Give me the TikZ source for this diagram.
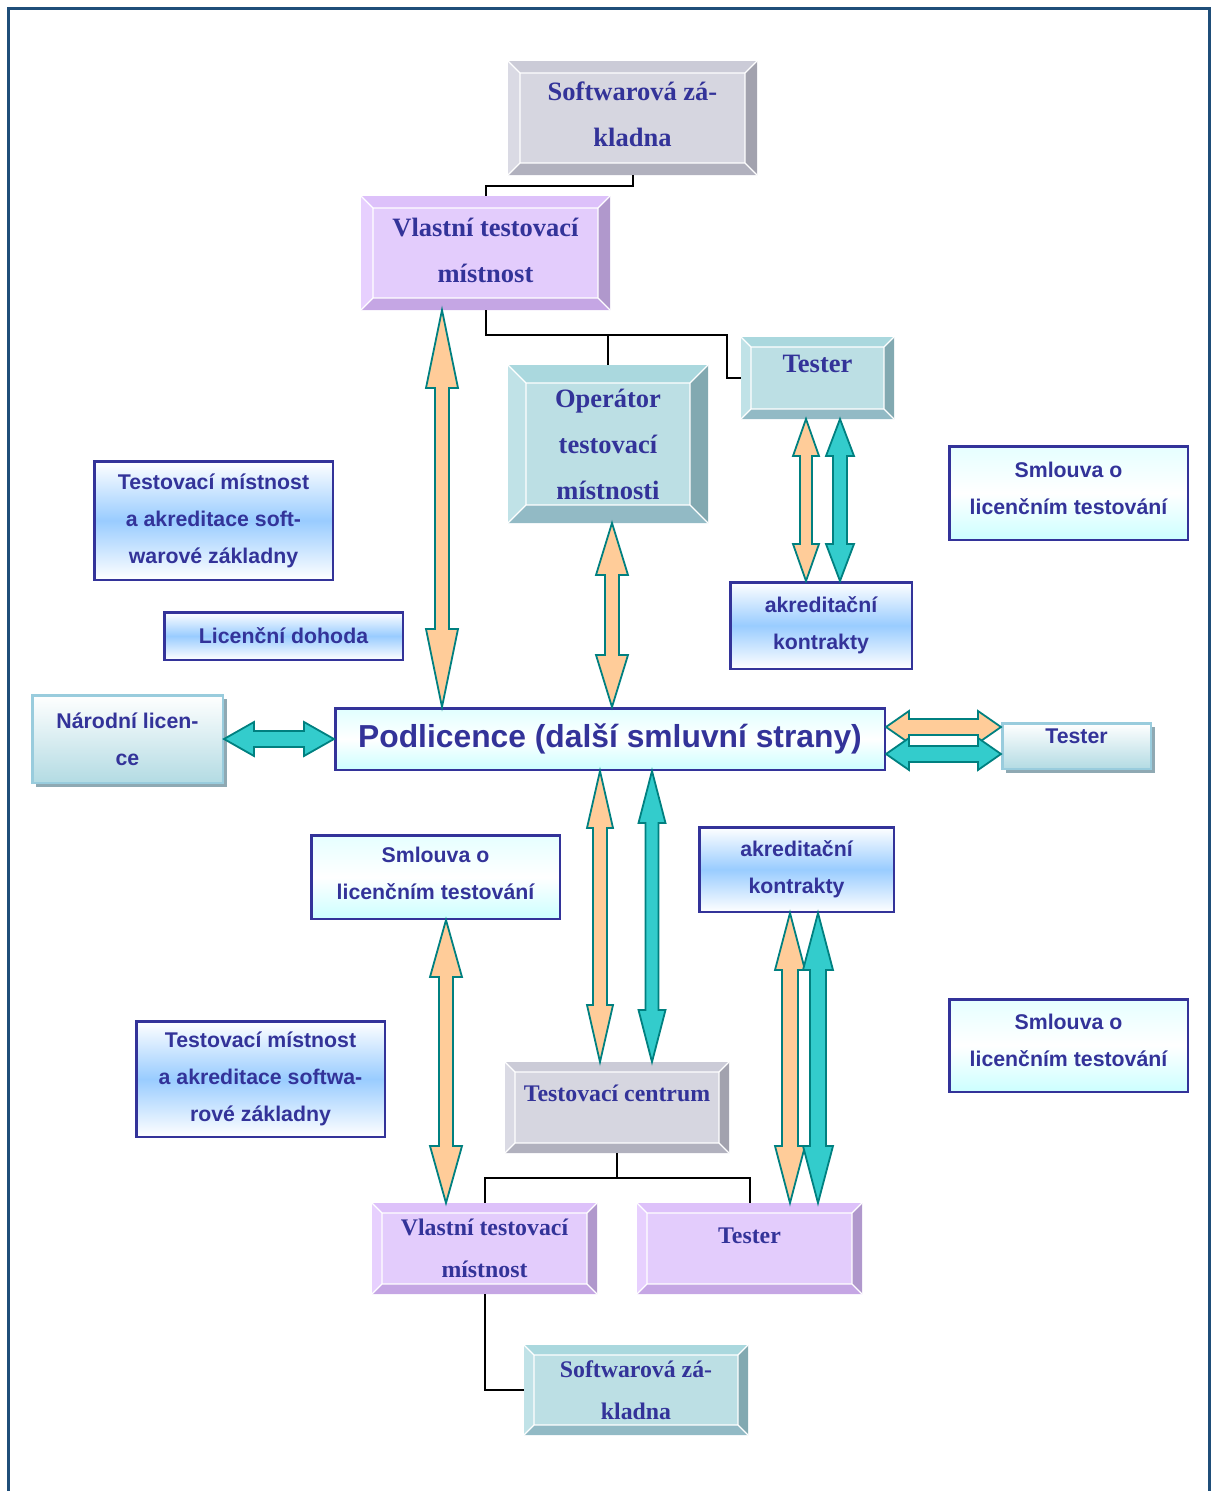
\documentclass[tikz,border=0pt]{standalone}
\usepackage{fontspec}
\setmainfont{Liberation Serif}
\setsansfont{Liberation Sans}
\usepackage{tikz}
\usetikzlibrary{calc,shadows}
\definecolor{navy}{HTML}{333399}
\definecolor{edge}{HTML}{1F4E79}
\definecolor{rim}{HTML}{008080}
\definecolor{peach}{HTML}{FFCC99}
\definecolor{aqua}{HTML}{33CCCC}
\definecolor{sky}{HTML}{99CCFF}
\definecolor{ice}{HTML}{CCFFFF}
\definecolor{mist}{HTML}{B3DBE3}
\definecolor{mistline}{HTML}{99CCDD}
\definecolor{shade}{HTML}{8FA9B3}
\definecolor{gryF}{HTML}{D6D6E0}
\definecolor{gryT}{HTML}{CBCBD7}
\definecolor{gryL}{HTML}{DADAE4}
\definecolor{gryR}{HTML}{A2A2AE}
\definecolor{gryB}{HTML}{B1B1BE}
\definecolor{purF}{HTML}{E3CCFC}
\definecolor{purT}{HTML}{DDC1FA}
\definecolor{purL}{HTML}{E7D0FE}
\definecolor{purR}{HTML}{B098CC}
\definecolor{purB}{HTML}{C5A6E4}
\definecolor{tlF}{HTML}{BCDFE4}
\definecolor{tlT}{HTML}{AAD8DE}
\definecolor{tlL}{HTML}{C0E2E7}
\definecolor{tlR}{HTML}{82A9B1}
\definecolor{tlB}{HTML}{92BAC5}
\newcommand\dblarrow[6]{\draw[#1] (#2)
 -- ($(#2)!#6!(#3)!#5!90:(#3)$) -- ($(#2)!#6!(#3)!#4!90:(#3)$)
 -- ($(#3)!#6!(#2)!#4!-90:(#2)$) -- ($(#3)!#6!(#2)!#5!-90:(#2)$)
 -- (#3)
 -- ($(#3)!#6!(#2)!#5!90:(#2)$) -- ($(#3)!#6!(#2)!#4!90:(#2)$)
 -- ($(#2)!#6!(#3)!#4!-90:(#3)$) -- ($(#2)!#6!(#3)!#5!-90:(#3)$)
 -- cycle;}

\begin{document}
\begin{tikzpicture}[x=1pt,y=-1pt,
 ser/.style={font=\bfseries\fontsize{26.5}{46}\selectfont},
 sers/.style={font=\bfseries\fontsize{23.8}{42}\selectfont},
 sns/.style={font=\sffamily\bfseries\fontsize{21.3}{37}\selectfont},
 bv/.style={inner sep=0pt,outer sep=0pt,align=center,text=navy},
 bevel/.style 2 args={fill=#1F,path picture={
  \coordinate (bnw) at (path picture bounding box.north west);
  \coordinate (bne) at (path picture bounding box.north east);
  \coordinate (bsw) at (path picture bounding box.south west);
  \coordinate (bse) at (path picture bounding box.south east);
  \coordinate (inw) at ([shift={(#2,-#2)}]bnw);
  \coordinate (ine) at ([shift={(-#2,-#2)}]bne);
  \coordinate (isw) at ([shift={(#2,#2)}]bsw);
  \coordinate (ise) at ([shift={(-#2,#2)}]bse);
  \fill[#1T] (bnw)--(bne)--(ine)--(inw)--cycle;
  \fill[#1L] (bnw)--(inw)--(isw)--(bsw)--cycle;
  \fill[#1R] (bne)--(ine)--(ise)--(bse)--cycle;
  \fill[#1B] (bsw)--(isw)--(ise)--(bse)--cycle;
  \draw[white,line width=1.3pt] (inw) rectangle (ise) (bnw)--(inw) (bne)--(ine) (bsw)--(isw) (bse)--(ise);}},
 flat/.style={draw=navy,line width=2.5pt,inner sep=0pt,align=center,text=navy,sns},
 blu/.style={flat,top color=white,bottom color=white,middle color=sky},
 cyn/.style={flat,top color=ice!50!white,bottom color=ice,middle color=white},
 mst/.style={draw=mistline,line width=2.5pt,inner sep=0pt,align=center,text=navy,sns,top color=white,bottom color=mist,
  drop shadow={shadow xshift=4pt,shadow yshift=-4pt,fill=shade,opacity=1}},
 conn/.style={draw=black,line width=2pt},
 oarr/.style={fill=peach,draw=rim,line width=1.8pt},
 tarr/.style={fill=aqua,draw=rim,line width=1.8pt}]
\useasboundingbox (0,0) rectangle (1211,1491);
\draw[edge,line width=3pt] (8.5,1491)--(8.5,8.5)--(1209.5,8.5)--(1209.5,1491);

\node[bv,bevel={gry}{12pt},ser,minimum width=249,minimum height=114,text depth=7pt] (sw1) at (632.5,118) {Softwarová zá-\\kladna};
\node[bv,bevel={pur}{12pt},ser,minimum width=249,minimum height=114,text depth=5pt] (vt1) at (485.5,253) {Vlastní testovací\\místnost};
\node[bv,bevel={tl}{18pt},ser,minimum width=200,minimum height=158] (op) at (608,444) {Operátor\\testovací\\místnosti};
\node[bv,bevel={tl}{10pt},ser,minimum width=153,minimum height=82,text height=17.5pt,text depth=28pt] (tst1) at (817.5,378) {Tester};
\node[blu,minimum width=181.5,minimum height=86.5] (akr1) at (821,625.5) {akreditační\\kontrakty};
\node[cyn,minimum width=238.5,minimum height=93.5,text depth=10pt] (sml1) at (1068.5,493) {Smlouva o\\licenčním testování};
\node[blu,minimum width=238.5,minimum height=118.5] (tma1) at (213.5,520.5) {Testovací místnost\\a akreditace soft-\\warové základny};
\node[blu,minimum width=238.5,minimum height=47.5] (lic) at (283.5,636) {Licenční dohoda};
\node[mst,minimum width=190.5,minimum height=87.5] (nar) at (127.5,739) {Národní licen-\\ce};
\node[flat,top color=ice!60!white,bottom color=ice,middle color=white,font=\sffamily\bfseries\fontsize{31.8}{38}\selectfont,minimum width=549.5,minimum height=61.5] (pod) at (610,739) {Podlicence (další smluvní strany)};
\node[mst,minimum width=148.5,minimum height=45.5,text height=15.3pt,text depth=20pt] (tst2) at (1076.5,746) {Tester};
\node[cyn,minimum width=248.5,minimum height=83.5,text depth=8pt] (sml2) at (435.5,877) {Smlouva o\\licenčním testování};
\node[blu,minimum width=194.5,minimum height=84.5] (akr2) at (796.5,869.5) {akreditační\\kontrakty};
\node[blu,minimum width=248.5,minimum height=115.5] (tma2) at (260.5,1079) {Testovací místnost\\a akreditace softwa-\\rové základny};
\node[cyn,minimum width=238.5,minimum height=92.5,text depth=10pt] (sml3) at (1068.5,1045.5) {Smlouva o\\licenčním testování};
\node[bv,bevel={gry}{10pt},sers,minimum width=224,minimum height=91,text height=15.8pt,text depth=27pt] (tc) at (617,1107.5) {Testovací centrum};
\node[bv,bevel={pur}{10pt},sers,minimum width=225,minimum height=91] (vt2) at (484.5,1248.5) {Vlastní testovací\\místnost};
\node[bv,bevel={pur}{10pt},sers,minimum width=225,minimum height=91,text height=15.8pt,text depth=25pt] (tst3) at (749.5,1248.5) {Tester};
\node[bv,bevel={tl}{10pt},sers,minimum width=224,minimum height=90] (sw2) at (636,1390) {Softwarová zá-\\kladna};

\draw[conn] (sw1.south) -- ++(0,11) -| (vt1.north);
\draw[conn] (vt1.south) -- ++(0,25) -| (op.north);
\draw[conn] (vt1.south) -- ++(0,25) -| ([xshift=-14pt]tst1.west) -- (tst1.west);
\draw[conn] (tc.south) -- ++(0,25) -| (vt2.north);
\draw[conn] (tc.south) -- ++(0,25) -| (tst3.north);
\draw[conn] (vt2.south) |- (sw2.west);

\dblarrow{oarr}{vt1.south -| 442,0}{pod.north -| 442,0}{7pt}{16pt}{78pt}
\dblarrow{oarr}{op.south -| 612,0}{pod.north -| 612,0}{7pt}{16pt}{52pt}
\dblarrow{oarr}{tst1.south -| 806,0}{akr1.north -| 806,0}{6pt}{13pt}{37pt}
\dblarrow{tarr}{tst1.south -| 840,0}{akr1.north -| 840,0}{7pt}{14pt}{37pt}
\dblarrow{oarr}{pod.south -| 600,0}{tc.north -| 600,0}{7pt}{13pt}{57pt}
\dblarrow{tarr}{pod.south -| 652,0}{tc.north -| 652,0}{6.5pt}{13.5pt}{52pt}
\dblarrow{oarr}{sml2.south -| 446,0}{vt2.north -| 446,0}{7pt}{16pt}{57pt}
\dblarrow{oarr}{akr2.south -| 790,0}{tst3.north -| 790,0}{8pt}{15pt}{57pt}
\dblarrow{tarr}{akr2.south -| 818,0}{tst3.north -| 818,0}{8pt}{15pt}{57pt}
\dblarrow{tarr}{nar.east}{pod.west}{8pt}{17pt}{30pt}
\dblarrow{oarr}{pod.east |- 0,727}{tst2.west |- 0,727}{8pt}{16pt}{23pt}
\dblarrow{tarr}{pod.east |- 0,754}{tst2.west |- 0,754}{8pt}{16pt}{23pt}
\end{tikzpicture}
\end{document}
